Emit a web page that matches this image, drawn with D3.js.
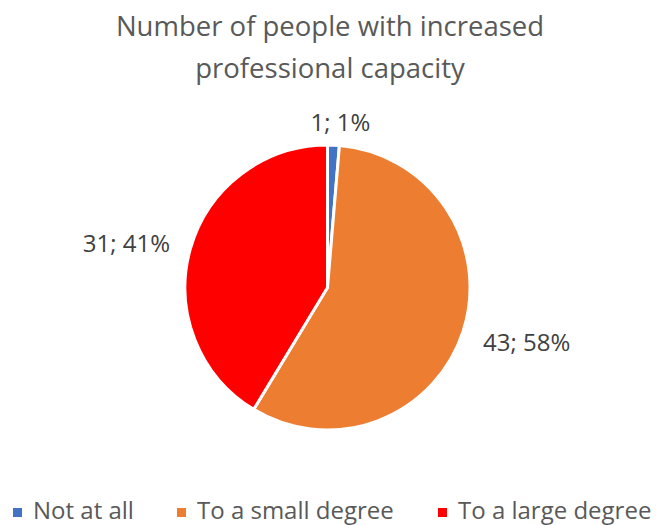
<!DOCTYPE html>
<html>
<head>
<meta charset="utf-8">
<script src="https://cdn.jsdelivr.net/npm/d3@7"></script>
<style>
  body { margin: 0; background: #fff; }
  text { font-family: "Open Sans", "Liberation Sans", sans-serif; }
</style>
</head>
<body>
<div id="wrapper"></div>
<script>
// data
const categories = ["Not at all", "To a small degree", "To a large degree"];
const counts = [1, 43, 31];
const percents = ["1%", "58%", "41%"];
const colors = ["#4472c4", "#ed7d31", "#ff0000"];
const titleLines = ["Number of people with increased", "professional capacity"];

const width = 659;
const height = 525;

const svg = d3.select("#wrapper")
  .append("svg")
  .attr("width", width)
  .attr("height", height);

// title
svg.append("g").selectAll("text")
  .data(titleLines)
  .join("text")
  .attr("x", 330)
  .attr("y", (d, i) => 36 + i * 42)
  .attr("text-anchor", "middle")
  .attr("fill", "#595959")
  .style("font-size", "27.5px")
  .text(d => d);

// pie
const cx = 327.5, cy = 287.5, radius = 142.5;

const dataset = categories.map((c, i) => ({ name: c, value: counts[i], pct: percents[i], color: colors[i] }));

const pie = d3.pie()
  .value(d => d.value)
  .sort(null);

const arc = d3.arc()
  .innerRadius(0)
  .outerRadius(radius);

const arcs = pie(dataset);

const chart = svg.append("g")
  .attr("transform", `translate(${cx},${cy})`);

chart.selectAll("path")
  .data(arcs)
  .join("path")
  .attr("d", arc)
  .attr("fill", d => d.data.color)
  .attr("stroke", "#fff")
  .attr("stroke-width", 3)
  .attr("stroke-linejoin", "round");

// labels outside the pie (best fit)
const labelArc = d3.arc().innerRadius(radius + 21).outerRadius(radius + 21);
const midAngle = d => (d.startAngle + d.endAngle) / 2;
const anchorOf = d => {
  const s = Math.sin(midAngle(d));
  return Math.abs(s) < 0.3 ? "middle" : (s > 0 ? "start" : "end");
};
const labelOffsets = [[6, -3], [0, 3], [0, -1]];

chart.selectAll("text.lbl")
  .data(arcs)
  .join("text")
  .attr("class", "lbl")
  .attr("x", (d, i) => labelArc.centroid(d)[0] + labelOffsets[i][0])
  .attr("y", (d, i) => labelArc.centroid(d)[1] + labelOffsets[i][1])
  .attr("text-anchor", anchorOf)
  .attr("dominant-baseline", "central")
  .attr("fill", "#404040")
  .style("font-size", "24px")
  .text(d => `${d.data.value}; ${d.data.pct}`);

// legend
const legendX = [13, 177, 438];
const legend = svg.append("g")
  .selectAll("g")
  .data(dataset)
  .join("g")
  .attr("transform", (d, i) => `translate(${legendX[i]},${519})`);

legend.append("rect")
  .attr("x", 0)
  .attr("y", -11)
  .attr("width", 9)
  .attr("height", 9)
  .attr("fill", d => d.color);

legend.append("text")
  .attr("x", 20)
  .attr("y", 0)
  .attr("fill", "#595959")
  .style("font-size", "24px")
  .text(d => d.name);
</script>
</body>
</html>
